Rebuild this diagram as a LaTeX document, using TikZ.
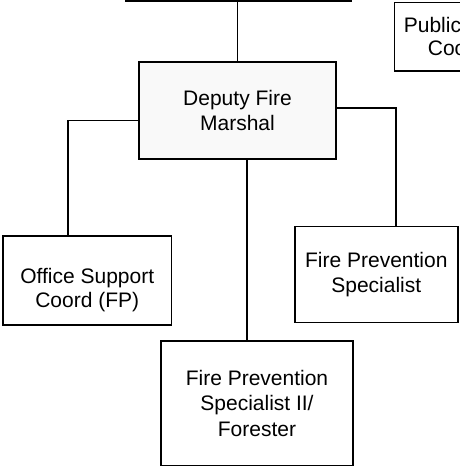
\documentclass[tikz,border=0pt]{standalone}
\usepackage{fontspec}
\setmainfont{Liberation Sans}
\usepackage{tikz}
\usetikzlibrary{positioning, calc}
\usepackage{xcolor}
\definecolor{box-fill}{gray}{0.975}

\begin{document}
\begin{tikzpicture}[x=1pt, y=-1pt,
		box/.style={draw, line width=1.7pt, align=center, inner sep=0pt,
			font=\fontsize{21}{24.5}\selectfont},
		link/.style={line width=1.7pt}]
						\useasboundingbox (0,0) rectangle (459,467);
						\coordinate (barL) at (125,0);
						\coordinate (barR) at (352,0);
						\node[box, fill=box-fill, minimum width=197pt, minimum height=97pt] (deputy) at (237.5,110.5) {Deputy Fire\\Marshal};
						\node[box, minimum width=168.5pt, minimum height=89pt] (office) at (87.25,280.5) {\rule{0pt}{34pt}Office Support\\Coord (FP)};
						\node[box, minimum width=163pt, minimum height=96pt] (spec) at (376.3,274.5) {Fire Prevention\\Specialist};
						\node[box, minimum width=192pt, minimum height=124.5pt, font=\fontsize{21}{25.5}\selectfont] (forester) at (257,403.3) {Fire Prevention\\Specialist II/\\Forester};
						\node[box, anchor=north west, minimum width=200pt, minimum height=68.5pt, align=left, text width=181pt, inner xsep=9.5pt, font=\fontsize{21}{23.3}\selectfont] (public) at (393.5,1.5) {Public\\\hspace*{24pt}Coo};
						\draw[line width=4pt] (barL) -- (barR);
						\draw[link] (deputy.north) -- (deputy.north |- barL);
						\draw[link] ([yshift=2.5pt]deputy.east) -| ([xshift=19.5pt]spec.north);
						\draw[link] ([yshift=-10pt]deputy.west) -| ([xshift=-19.5pt]office.north);
						\draw[link] ([xshift=9.5pt]deputy.south) -- ([xshift=9.5pt]deputy.south |- forester.north);
					\end{tikzpicture}
\end{document}
